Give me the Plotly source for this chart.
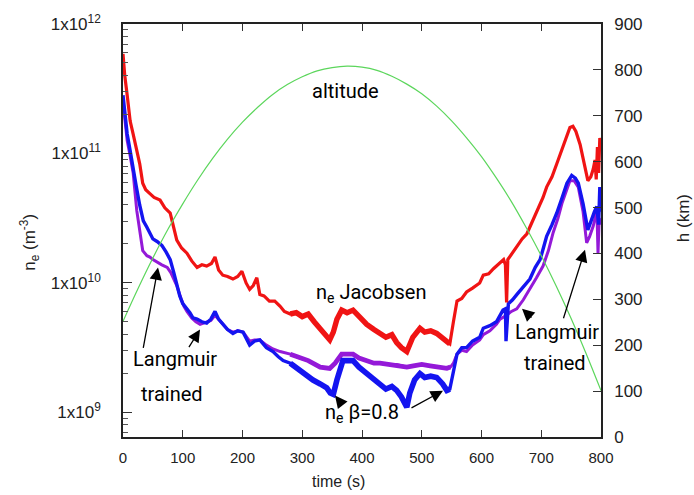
import plotly.graph_objects as go

# ---------------- data ----------------
# altitude of the rocket (km) vs time (s)
alt_time = [0, 25, 50, 75, 100, 125, 150, 175, 200, 225, 250, 275, 300, 325, 350, 375,
            400, 425, 450, 475, 500, 525, 550, 575, 600, 625, 650, 675, 700, 725, 750, 775, 800]
alt_km = [252, 323, 390, 452, 508, 560, 607, 649, 686, 718, 746, 768, 785, 798, 805, 808,
          806, 799, 786, 769, 748, 721, 689, 652, 611, 564, 513, 456, 395, 329, 258, 182, 101]

# n_e Jacobsen, log10(m^-3)
jac_time = [0, 3, 7, 12, 17, 20, 23, 28, 33, 38, 45, 52, 62, 70, 79, 85, 90, 98, 107, 115,
            124, 132, 140, 148, 154, 160, 167, 175, 184, 192, 199, 206, 212, 218, 224, 229,
            236, 245, 254, 263, 270, 280, 290, 300, 310, 320, 330, 340, 346, 352, 358, 366,
            375, 385, 395, 408, 420, 430, 440, 450, 458, 466, 475, 485, 497, 505, 515, 525,
            535, 547, 553, 559, 567, 575, 585, 597, 603, 612, 620, 631, 637, 640, 642, 644,
            650, 659, 668, 676, 686, 695, 703, 709, 718, 726, 735, 743, 748, 753, 758, 765,
            771, 778, 783, 787, 790, 792, 794, 796, 798, 800]
jac_log = [11.77, 11.60, 11.45, 11.25, 11.15, 11.08, 11.02, 10.92, 10.77, 10.72, 10.69, 10.66,
           10.64, 10.58, 10.54, 10.42, 10.33, 10.27, 10.23, 10.17, 10.12, 10.14, 10.13, 10.15,
           10.20, 10.10, 10.06, 10.05, 10.03, 10.05, 10.09, 10.00, 9.95, 9.98, 10.04, 9.91,
           9.90, 9.86, 9.86, 9.82, 9.78, 9.76, 9.77, 9.74, 9.76, 9.70, 9.65, 9.60, 9.56, 9.62,
           9.72, 9.79, 9.77, 9.79, 9.74, 9.68, 9.64, 9.61, 9.58, 9.60, 9.54, 9.50, 9.47, 9.58,
           9.65, 9.62, 9.63, 9.61, 9.57, 9.53, 9.70, 9.86, 9.88, 9.93, 9.96, 10.00, 10.06, 10.07,
           10.11, 10.16, 10.18, 10.14, 9.85, 10.18, 10.22, 10.27, 10.34, 10.38, 10.48, 10.58,
           10.66, 10.74, 10.82, 10.92, 11.04, 11.15, 11.20, 11.21, 11.17, 11.07, 10.93, 10.79,
           10.82, 10.88, 10.95, 10.80, 11.05, 10.85, 11.12, 11.05]

# n_e beta=0.8, log10(m^-3)
beta_time = [0, 3, 7, 12, 17, 22, 28, 34, 40, 45, 50, 57, 65, 72, 79, 85, 90, 95, 100, 107,
             112, 117, 124, 132, 140, 147, 154, 160, 167, 175, 184, 192, 201, 206, 212, 220,
             229, 240, 251, 260, 268, 280, 296, 308, 318, 330, 341, 347, 352, 358, 363, 368,
             375, 385, 395, 408, 420, 430, 440, 450, 458, 466, 472, 475, 480, 488, 497, 505,
             515, 525, 535, 542, 547, 553, 559, 567, 575, 585, 597, 603, 614, 625, 636, 640,
             641, 645, 652, 659, 670, 681, 690, 698, 703, 709, 718, 726, 735, 743, 751, 757,
             762, 770, 778, 782, 785, 789, 793, 796, 798, 800]
beta_log = [11.45, 11.30, 11.15, 11.02, 10.90, 10.75, 10.60, 10.48, 10.43, 10.38, 10.34, 10.32,
            10.29, 10.24, 10.18, 10.08, 9.98, 9.90, 9.84, 9.80, 9.77, 9.73, 9.72, 9.70, 9.69,
            9.72, 9.78, 9.72, 9.68, 9.64, 9.61, 9.63, 9.62, 9.58, 9.52, 9.55, 9.56, 9.50, 9.47,
            9.43, 9.40, 9.38, 9.32, 9.28, 9.25, 9.22, 9.19, 9.15, 9.14, 9.25, 9.32, 9.40, 9.40,
            9.40, 9.35, 9.30, 9.25, 9.22, 9.18, 9.20, 9.17, 9.12, 9.06, 9.04, 9.15, 9.25, 9.30,
            9.27, 9.28, 9.27, 9.22, 9.17, 9.18, 9.32, 9.45, 9.50, 9.50, 9.55, 9.58, 9.65, 9.67,
            9.70, 9.79, 9.80, 9.55, 9.84, 9.87, 9.91, 9.97, 10.03, 10.12, 10.18, 10.26, 10.36,
            10.45, 10.54, 10.66, 10.77, 10.83, 10.81, 10.77, 10.61, 10.41, 10.46, 10.51, 10.55,
            10.59, 10.45, 10.74, 10.55]

# n_e Langmuir trained, log10(m^-3)
lang_time = [0, 3, 7, 12, 17, 23, 28, 33, 40, 45, 50, 57, 65, 74, 80, 85, 90, 97, 102, 107,
             115, 122, 129, 135, 140, 147, 154, 160, 167, 175, 184, 192, 201, 206, 212, 220,
             229, 240, 251, 263, 280, 296, 310, 330, 346, 355, 366, 375, 385, 395, 408, 420,
             430, 445, 458, 475, 486, 500, 514, 528, 542, 548, 553, 559, 567, 575, 585, 597,
             603, 614, 625, 631, 642, 650, 659, 670, 681, 692, 703, 712, 720, 728, 735, 743,
             748, 755, 762, 770, 776, 781, 787, 791, 793, 795, 797, 800]
lang_log = [11.40, 11.25, 11.10, 10.98, 10.85, 10.56, 10.40, 10.25, 10.21, 10.20, 10.18, 10.16,
            10.14, 10.12, 10.08, 10.03, 9.98, 9.88, 9.82, 9.78, 9.73, 9.70, 9.68, 9.69, 9.70,
            9.71, 9.75, 9.72, 9.68, 9.64, 9.62, 9.63, 9.62, 9.59, 9.55, 9.56, 9.56, 9.52, 9.49,
            9.47, 9.45, 9.42, 9.40, 9.35, 9.34, 9.38, 9.45, 9.45, 9.45, 9.42, 9.40, 9.38, 9.38,
            9.37, 9.37, 9.35, 9.36, 9.37, 9.36, 9.35, 9.34, 9.35, 9.38, 9.45, 9.48, 9.47, 9.52,
            9.56, 9.60, 9.63, 9.68, 9.72, 9.75, 9.78, 9.80, 9.87, 9.95, 10.04, 10.13, 10.25,
            10.39, 10.50, 10.62, 10.73, 10.79, 10.79, 10.74, 10.55, 10.31, 10.36, 10.44, 10.52,
            10.59, 10.23, 10.50, 10.45]

ne_tickvals = [1e9, 1e10, 1e11, 1e12]
ne_ticktext = ["1x10<sup>9</sup>", "1x10<sup>10</sup>", "1x10<sup>11</sup>", "1x10<sup>12</sup>"]
h_ticks = [0, 100, 200, 300, 400, 500, 600, 700, 800, 900]
t_ticks = [0, 100, 200, 300, 400, 500, 600, 700, 800]

# ---------------- figure ----------------
W, H = 694, 495
L, R, T, B = 123, 93, 18, 58
PW, PH = W - L - R, H - T - B


def px(x):
    return (x - L) / PW


def py(y):
    return (H - B - y) / PH


def seg(ts, vs, t0, t1):
    pts = [(t, 10 ** v) for t, v in zip(ts, vs) if t0 <= t <= t1]
    return [p[0] for p in pts], [p[1] for p in pts]


fig = go.Figure()
series = [  # (times, log values, colour, base width, noisy-band width)
    (lang_time, lang_log, "#9419d8", 3.0, 4.8),
    (beta_time, beta_log, "#1414f0", 3.4, 5.6),
    (jac_time, jac_log, "#f01414", 3.2, 5.4),
]
for ts, vs, col, w0, w1 in series:
    x_all, y_all = seg(ts, vs, 0, 800)
    fig.add_trace(go.Scatter(x=x_all, y=y_all, mode="lines",
                             line=dict(color=col, width=w0), yaxis="y"))
    x_mid, y_mid = seg(ts, vs, 275, 548)
    fig.add_trace(go.Scatter(x=x_mid, y=y_mid, mode="lines",
                             line=dict(color=col, width=w1), yaxis="y"))
fig.add_trace(go.Scatter(x=alt_time, y=alt_km, mode="lines", line_shape="spline",
                         line=dict(color="#5cd65c", width=1.2), yaxis="y2"))

minor_vals = [m * 10 ** e for e in (8, 9, 10, 11) for m in range(2, 10)]

tickfont = dict(family="Liberation Sans, Arial, sans-serif", size=17, color="#222")

fig.update_layout(
    width=W, height=H,
    margin=dict(l=L, r=R, t=T, b=B),
    paper_bgcolor="white", plot_bgcolor="white",
    showlegend=False,
    xaxis=dict(range=[0, 800], tickvals=t_ticks, ticks="inside", ticklen=7, tickwidth=1,
               tickcolor="#333", showline=True, linecolor="#222", linewidth=1.6,
               mirror="ticks", showgrid=False, zeroline=False,
               tickfont=dict(family="Liberation Sans, Arial, sans-serif", size=15, color="#222"),
               ticklabelstandoff=6),
    yaxis=dict(type="log", range=[8.81, 12.0], tickvals=ne_tickvals, ticktext=ne_ticktext,
               ticks="inside", ticklen=9, tickwidth=1, tickcolor="#333",
               minor=dict(tickvals=minor_vals, ticks="inside", ticklen=5, tickcolor="#555",
                          showgrid=False),
               showline=True, linecolor="#222", linewidth=1.6, showgrid=False, zeroline=False,
               tickfont=tickfont, ticklabelstandoff=17),
    yaxis2=dict(range=[0, 900], tickvals=h_ticks, overlaying="y", side="right",
                ticks="inside", ticklen=8, tickwidth=1, tickcolor="#333",
                showline=True, linecolor="#222", linewidth=1.6, showgrid=False, zeroline=False,
                tickfont=tickfont, ticklabelstandoff=8),
)

afont = dict(family="Roboto, sans-serif", size=20, color="black")
texts = [
    ("altitude", 345, 86),
    ("n<sub>e</sub> Jacobsen", 371, 291),
    ("Langmuir", 175, 358),
    ("trained", 172, 393),
    ("Langmuir", 557, 330),
    ("trained", 555, 362),
    ("n<sub>e</sub> β=0.8", 362, 413),
]
for txt, x, y in texts:
    fig.add_annotation(text=txt, x=px(x), y=py(y), xref="paper", yref="paper",
                       showarrow=False, font=afont, xanchor="center", yanchor="middle")

arrows = [  # head (x, y), tail (x, y) in pixels
    ((158, 265), (143, 347)),
    ((200, 328), (188, 347)),
    ((585, 247), (563, 317)),
    ((522, 307), (533, 317)),
    ((335, 395), (343, 405)),
    ((443, 390), (410, 408)),
]
for (hx, hy), (tx, ty) in arrows:
    fig.add_annotation(x=px(hx), y=py(hy), xref="paper", yref="paper",
                       ax=tx - hx, ay=ty - hy, axref="pixel", ayref="pixel",
                       text="", showarrow=True, arrowhead=2, arrowsize=1.9,
                       arrowwidth=1.3, arrowcolor="black")

titlefont = dict(family="Liberation Sans, Arial, sans-serif", size=17, color="#222")
fig.add_annotation(text="n<sub>e</sub> (m<sup>-3</sup>)", x=px(30), y=py(240), xref="paper",
                   yref="paper", showarrow=False, textangle=-90, font=titlefont,
                   xanchor="center", yanchor="middle")
fig.add_annotation(text="h (km)", x=px(683), y=py(215), xref="paper", yref="paper",
                   showarrow=False, textangle=-90, font=titlefont,
                   xanchor="center", yanchor="middle")
fig.add_annotation(text="time (s)", x=px(338), y=py(482), xref="paper", yref="paper",
                   showarrow=False, xanchor="center", yanchor="middle",
                   font=dict(family="Liberation Sans, Arial, sans-serif", size=16, color="#222"))

fig.write_html("out.html")
